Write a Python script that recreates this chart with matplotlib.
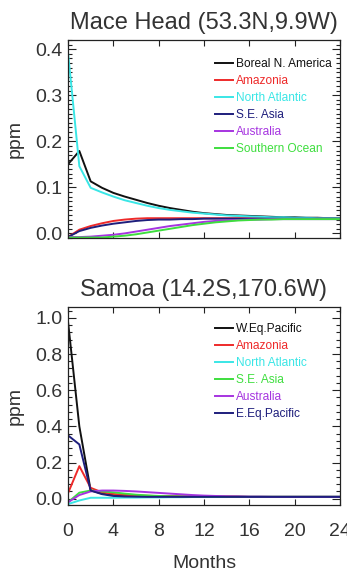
import numpy as np
import matplotlib
matplotlib.use('Agg')
import matplotlib.pyplot as plt
from matplotlib.ticker import MultipleLocator

plt.rcParams['font.family'] = ['Liberation Sans', 'DejaVu Sans']

months = np.arange(0, 25)

# ---- Mace Head (53.3N,9.9W) ----
mh_names = ['Boreal N. America', 'Amazonia', 'North Atlantic', 'S.E. Asia', 'Australia', 'Southern Ocean']
mh_boreal = [0.150, 0.179, 0.113, 0.099, 0.088, 0.080, 0.073, 0.066, 0.060, 0.055, 0.051, 0.047, 0.044,
             0.042, 0.040, 0.039, 0.038, 0.037, 0.036, 0.035, 0.035, 0.034, 0.034, 0.033, 0.033]
mh_amazonia = [-0.008, 0.008, 0.016, 0.022, 0.027, 0.030, 0.032, 0.033, 0.033, 0.033, 0.033, 0.033, 0.033,
               0.033, 0.033, 0.033, 0.033, 0.033, 0.033, 0.033, 0.033, 0.033, 0.033, 0.033, 0.033]
mh_natl = [0.393, 0.146, 0.099, 0.089, 0.080, 0.072, 0.066, 0.060, 0.055, 0.051, 0.048, 0.045, 0.043,
           0.041, 0.039, 0.038, 0.037, 0.036, 0.035, 0.035, 0.034, 0.034, 0.033, 0.033, 0.033]
mh_seasia = [-0.008, 0.005, 0.012, 0.017, 0.021, 0.024, 0.027, 0.029, 0.030, 0.030, 0.031, 0.031, 0.032,
             0.032, 0.032, 0.032, 0.032, 0.032, 0.032, 0.032, 0.032, 0.032, 0.032, 0.032, 0.032]
mh_austr = [-0.008, -0.008, -0.007, -0.005, -0.003, 0.000, 0.004, 0.008, 0.012, 0.016, 0.019, 0.022, 0.025,
            0.027, 0.028, 0.029, 0.030, 0.030, 0.031, 0.031, 0.031, 0.031, 0.031, 0.031, 0.031]
mh_south = [-0.009, -0.009, -0.009, -0.009, -0.007, -0.005, -0.002, 0.002, 0.006, 0.010, 0.014, 0.018, 0.021,
            0.024, 0.026, 0.028, 0.029, 0.030, 0.030, 0.031, 0.031, 0.031, 0.031, 0.031, 0.031]

# ---- Samoa (14.2S,170.6W) ----
sm_names = ['W.Eq.Pacific', 'Amazonia', 'North Atlantic', 'S.E. Asia', 'Australia', 'E.Eq.Pacific']
sm_weq = [0.98, 0.40, 0.046, 0.028, 0.020, 0.016, 0.014, 0.013, 0.012, 0.012, 0.011, 0.011, 0.011,
          0.011, 0.011, 0.011, 0.010, 0.010, 0.010, 0.010, 0.010, 0.010, 0.010, 0.010, 0.010]
sm_amazonia = [0.03, 0.18, 0.060, 0.035, 0.026, 0.021, 0.018, 0.016, 0.014, 0.013, 0.012, 0.012, 0.011,
               0.011, 0.011, 0.011, 0.010, 0.010, 0.010, 0.010, 0.010, 0.010, 0.010, 0.010, 0.010]
sm_natl = [-0.03, -0.01, 0.005, 0.005, 0.005, 0.006, 0.006, 0.007, 0.007, 0.008, 0.008, 0.009, 0.009,
           0.009, 0.009, 0.010, 0.010, 0.010, 0.010, 0.010, 0.010, 0.010, 0.010, 0.010, 0.010]
sm_seasia = [-0.02, 0.033, 0.045, 0.040, 0.035, 0.028, 0.022, 0.018, 0.015, 0.013, 0.012, 0.011, 0.011,
             0.011, 0.010, 0.010, 0.010, 0.010, 0.010, 0.010, 0.010, 0.010, 0.010, 0.010, 0.010]
sm_austr = [-0.02, 0.020, 0.040, 0.045, 0.045, 0.043, 0.040, 0.036, 0.032, 0.028, 0.024, 0.020, 0.017,
            0.015, 0.013, 0.012, 0.011, 0.011, 0.010, 0.010, 0.010, 0.010, 0.010, 0.010, 0.010]
sm_eeq = [0.35, 0.30, 0.045, 0.025, 0.015, 0.012, 0.011, 0.010, 0.010, 0.010, 0.010, 0.010, 0.010,
          0.010, 0.010, 0.010, 0.010, 0.010, 0.010, 0.010, 0.010, 0.010, 0.010, 0.010, 0.010]

black, red, cyan, navy, purple, green = '#111111', '#ee2a2a', '#3ae6e6', '#1e1e7c', '#a634e0', '#3ede3e'
txt = '#333333'

fig = plt.figure(figsize=(3.47, 5.71), dpi=100)
ax1 = fig.add_axes([68/347, 1-238/571, 272/347, 198/571])
ax2 = fig.add_axes([68/347, 1-505/571, 272/347, 198/571])


def style(ax, ymin, ymax, ymaj, ymin_step, show_x):
    ax.set_xlim(0, 24)
    ax.set_ylim(ymin, ymax)
    ax.xaxis.set_major_locator(MultipleLocator(4))
    ax.yaxis.set_major_locator(MultipleLocator(ymaj))
    ax.yaxis.set_minor_locator(MultipleLocator(ymin_step))
    ax.tick_params(which='both', direction='in', top=True, right=True, colors='#222222',
                   labelcolor=txt, labelsize=14, width=0.8)
    ax.tick_params(axis='x', which='major', length=4, pad=13)
    ax.tick_params(axis='y', which='major', length=6, pad=4)
    ax.tick_params(axis='y', which='minor', length=3)
    if not show_x:
        ax.tick_params(axis='x', labelbottom=False)
    ax.yaxis.set_major_formatter(matplotlib.ticker.FormatStrFormatter('%.1f'))
    ax.set_ylabel('ppm', fontsize=14, color=txt, labelpad=8)
    for s in ax.spines.values():
        s.set_color('#222222')
        s.set_linewidth(0.9)


lw = 1.4
leg_kw = dict(loc='upper left', frameon=False, fontsize=8.6, handlelength=1.5,
              handletextpad=0.3, labelspacing=0.42, borderpad=0, borderaxespad=0,
              labelcolor='linecolor')

mh_series = [mh_boreal, mh_amazonia, mh_natl, mh_seasia, mh_austr, mh_south]
mh_colors = [black, red, cyan, navy, purple, green]
for vals, c, name in zip(mh_series, mh_colors, mh_names):
    ax1.plot(months, vals, color=c, lw=lw, label=name)
style(ax1, -0.01, 0.42, 0.1, 0.01, False)
ax1.set_title('Mace Head (53.3N,9.9W)', fontsize=17, color=txt, pad=8)
ax1.legend(bbox_to_anchor=(0.54, 0.91), **leg_kw)

sm_series = [sm_weq, sm_amazonia, sm_natl, sm_seasia, sm_austr, sm_eeq]
sm_colors = [black, red, cyan, green, purple, navy]
for vals, c, name in zip(sm_series, sm_colors, sm_names):
    ax2.plot(months, vals, color=c, lw=lw, label=name)
style(ax2, -0.035, 1.06, 0.2, 0.04, True)
ax2.set_title('Samoa (14.2S,170.6W)', fontsize=17, color=txt, pad=8)
ax2.set_xlabel('Months', fontsize=14, color=txt, labelpad=11)
ax2.legend(bbox_to_anchor=(0.54, 0.92), **leg_kw)

fig.savefig('out.png', dpi=100)
